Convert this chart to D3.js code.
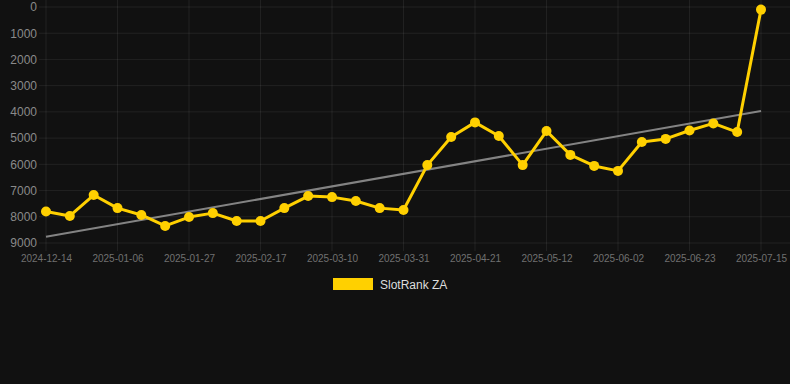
<!DOCTYPE html>
<html>
<head>
<meta charset="utf-8">
<script src="https://cdn.jsdelivr.net/npm/d3@7"></script>
<style>
  html, body { margin: 0; padding: 0; background: #111111; }
  #chart { width: 790px; height: 384px; }
  text { font-family: "Liberation Sans", Arial, Helvetica, sans-serif; }
</style>
</head>
<body>
<div id="chart"></div>
<script>
// Weekly dates (category axis), only every 3rd is labelled
const dates = [
  '2024-12-14', '2024-12-22', '2024-12-29', '2025-01-06', '2025-01-13', '2025-01-20',
  '2025-01-27', '2025-02-03', '2025-02-10', '2025-02-17', '2025-02-24', '2025-03-03',
  '2025-03-10', '2025-03-17', '2025-03-24', '2025-03-31', '2025-04-07', '2025-04-14',
  '2025-04-21', '2025-04-28', '2025-05-05', '2025-05-12', '2025-05-19', '2025-05-26',
  '2025-06-02', '2025-06-09', '2025-06-16', '2025-06-23', '2025-06-30', '2025-07-07',
  '2025-07-15'
];

// SlotRank ZA rank per week (lower is better, axis reversed)
const ranks = [
  7800, 7970, 7170, 7670, 7930, 8350,
  8010, 7860, 8160, 8160, 7670, 7210,
  7250, 7400, 7670, 7740, 6030, 4960,
  4400, 4920, 6030, 4730, 5640, 6060,
  6250, 5150, 5030, 4710, 4440, 4770,
  100
];

const yTicks = [0, 1000, 2000, 3000, 4000, 5000, 6000, 7000, 8000, 9000];
const xTickDates = dates.filter((d, i) => i % 3 === 0);
const seriesName = 'SlotRank ZA';

const width = 790, height = 384;
const lineColor = '#ffd000';

const svg = d3.select('#chart').append('svg')
  .attr('width', width)
  .attr('height', height);

svg.append('rect').attr('width', width).attr('height', height).attr('fill', '#111111');

// Scales
const x = d3.scalePoint().domain(dates).range([46, 761]);
const y = d3.scaleLinear().domain([0, 9000]).range([7, 243]);

// Horizontal grid
svg.append('g')
  .selectAll('line')
  .data(yTicks)
  .join('line')
  .attr('x1', 39).attr('x2', width)
  .attr('y1', d => y(d)).attr('y2', d => y(d))
  .attr('stroke', 'rgba(255,255,255,0.07)')
  .attr('stroke-width', 1);

// Vertical grid (labelled ticks only)
svg.append('g')
  .selectAll('line')
  .data(xTickDates)
  .join('line')
  .attr('x1', d => x(d)).attr('x2', d => x(d))
  .attr('y1', 0).attr('y2', 251)
  .attr('stroke', 'rgba(255,255,255,0.07)')
  .attr('stroke-width', 1);

// Y axis labels
const yAxis = d3.axisLeft(y).tickValues(yTicks).tickSize(0).tickPadding(0).tickFormat(d3.format('d'));
svg.append('g')
  .attr('transform', 'translate(37,0)')
  .call(yAxis)
  .call(g => g.select('.domain').remove())
  .selectAll('text')
  .attr('fill', '#8a8a8a')
  .style('font-size', '12px')
  .style('font-family', '"Liberation Sans", Arial, sans-serif');

// X axis labels
const xAxis = d3.axisBottom(x).tickValues(xTickDates).tickSize(0).tickPadding(0);
svg.append('g')
  .attr('transform', 'translate(0,255)')
  .call(xAxis)
  .call(g => g.select('.domain').remove())
  .selectAll('text')
  .attr('fill', '#707070')
  .style('font-size', '10px')
  .style('font-family', '"Liberation Sans", Arial, sans-serif');

// Linear trend line (least squares over index)
const n = ranks.length;
const xs = d3.range(n);
const mx = d3.mean(xs), my = d3.mean(ranks);
const slope = d3.sum(xs, i => (i - mx) * (ranks[i] - my)) / d3.sum(xs, i => (i - mx) ** 2);
const icpt = my - slope * mx;
svg.append('line')
  .attr('x1', x(dates[0])).attr('y1', y(icpt))
  .attr('x2', x(dates[n - 1])).attr('y2', y(icpt + slope * (n - 1)))
  .attr('stroke', 'rgba(170,170,170,0.75)')
  .attr('stroke-width', 2);

// Series line
const line = d3.line()
  .x((d, i) => x(dates[i]))
  .y(d => y(d));

svg.append('path')
  .datum(ranks)
  .attr('d', line)
  .attr('fill', 'none')
  .attr('stroke', lineColor)
  .attr('stroke-width', 3)
  .attr('stroke-linejoin', 'round');

svg.append('g')
  .selectAll('circle')
  .data(ranks)
  .join('circle')
  .attr('cx', (d, i) => x(dates[i]))
  .attr('cy', d => y(d))
  .attr('r', 5)
  .attr('fill', lineColor);

// Legend
const legend = svg.append('g').attr('transform', 'translate(333,278)');
legend.append('rect')
  .attr('width', 40).attr('height', 12)
  .attr('fill', lineColor);
legend.append('text')
  .attr('x', 47).attr('y', 10.5)
  .attr('fill', '#dddddd')
  .style('font-size', '12px')
  .text(seriesName);
</script>
</body>
</html>
